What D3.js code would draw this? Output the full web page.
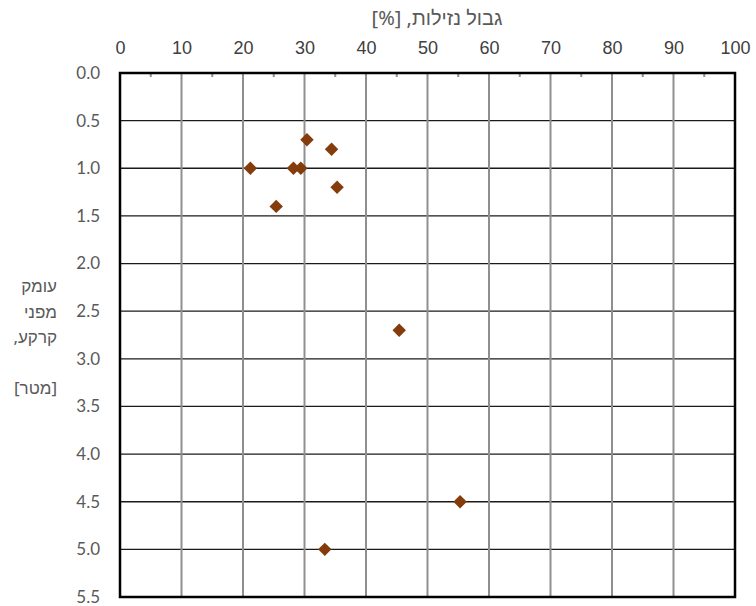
<!DOCTYPE html>
<html>
<head>
<meta charset="utf-8">
<script src="https://cdn.jsdelivr.net/npm/d3@7"></script>
<style>
  body { margin: 0; background: #fff; }
  svg { display: block; }
</style>
</head>
<body>
<div class="chart"></div>
<script>
// liquid limit [%] vs depth [m]
var liquidLimit = [30.4, 34.4, 21.2, 28.2, 29.4, 35.3, 25.4, 45.4, 55.3, 33.3];
var depth       = [0.7, 0.8, 1.0, 1.0, 1.0, 1.2, 1.4, 2.7, 4.5, 5.0];

var xTicks = [0, 10, 20, 30, 40, 50, 60, 70, 80, 90, 100];
var yTicks = [0, 0.5, 1, 1.5, 2, 2.5, 3, 3.5, 4, 4.5, 5, 5.5];
var xMinorTicks = [5, 15, 25, 35, 45, 55, 65, 75, 85, 95];

var xTitle = "גבול נזילות, [%]";
var yTitleLines = ["עומק", "מפני", "קרקע,", "", "[מטר]"];

var chart_width = 756;
var chart_height = 606;
// plot box edges
var plotL = 120, plotR = 735, plotT = 73, plotB = 597;

var svg = d3.select('.chart')
  .append('svg')
  .attr('width', chart_width)
  .attr('height', chart_height);

var x = d3.scaleLinear().domain([0, 100]).range([plotL, plotR]);
var y = d3.scaleLinear().domain([0, 5.5]).range([plotT, plotB]);

// horizontal grid
svg.append('g')
  .selectAll('line')
  .data(yTicks.slice(1, -1))
  .enter()
  .append('line')
  .attr('x1', plotL).attr('x2', plotR)
  .attr('y1', d => y(d)).attr('y2', d => y(d))
  .attr('stroke', '#1a1a1a')
  .attr('stroke-width', 1.3);

// vertical grid
svg.append('g')
  .selectAll('line')
  .data(xTicks.slice(1, -1))
  .enter()
  .append('line')
  .attr('x1', d => x(d)).attr('x2', d => x(d))
  .attr('y1', plotT).attr('y2', plotB)
  .attr('stroke', '#8f8f8f')
  .attr('stroke-width', 2);

// minor ticks along the top
svg.append('g')
  .selectAll('line')
  .data(xMinorTicks)
  .enter()
  .append('line')
  .attr('x1', d => x(d)).attr('x2', d => x(d))
  .attr('y1', plotT).attr('y2', plotT + 4)
  .attr('stroke', '#8f8f8f')
  .attr('stroke-width', 2);

// frame
svg.append('rect')
  .attr('x', plotL).attr('y', plotT)
  .attr('width', plotR - plotL).attr('height', plotB - plotT)
  .attr('fill', 'none')
  .attr('stroke', '#000')
  .attr('stroke-width', 2.5);

// x axis (top)
var xAxis = svg.append('g')
  .attr('transform', 'translate(0,' + (plotT - 19) + ')')
  .call(d3.axisTop(x).tickValues(xTicks).tickSize(0).tickPadding(0));
xAxis.select('.domain').remove();
xAxis.selectAll('text')
  .attr('fill', '#404040')
  .style('font-family', '"Liberation Sans Narrow", "Liberation Sans", Arial, sans-serif')
  .style('font-size', '18px');

// y axis
var yAxis = svg.append('g')
  .attr('transform', 'translate(' + (plotL - 20) + ',0)')
  .call(d3.axisLeft(y).tickValues(yTicks).tickSize(0).tickPadding(0).tickFormat(d3.format('.1f')));
yAxis.select('.domain').remove();
yAxis.selectAll('text')
  .attr('fill', '#595959')
  .style('font-family', 'Lato, "Open Sans", sans-serif')
  .style('font-size', '17px');

// titles (rtl so "[%]" ends up on the left)
svg.append('text')
  .attr('x', 437).attr('y', 25)
  .attr('text-anchor', 'middle')
  .attr('direction', 'rtl')
  .attr('fill', '#595959')
  .style('font-family', '"Noto Sans", sans-serif')
  .style('font-size', '20px')
  .text(xTitle);

// y title: right aligned, rtl
svg.append('g')
  .selectAll('text')
  .data(yTitleLines)
  .enter()
  .append('text')
  .attr('x', 57)
  .attr('y', (d, i) => 292 + i * 25.5)
  .attr('text-anchor', 'start')
  .attr('direction', 'rtl')
  .attr('fill', '#595959')
  .style('font-family', '"Noto Sans", sans-serif')
  .style('font-size', '17px')
  .text(d => d);

// points
var diamond = d3.symbol().type(d3.symbolDiamond2).size(115);
svg.append('g')
  .selectAll('path')
  .data(liquidLimit.map((v, i) => ({ ll: v, d: depth[i] })))
  .enter()
  .append('path')
  .attr('d', diamond)
  .attr('transform', d => 'translate(' + x(d.ll) + ',' + y(d.d) + ')')
  .attr('fill', '#843c0c');
</script>
</body>
</html>
